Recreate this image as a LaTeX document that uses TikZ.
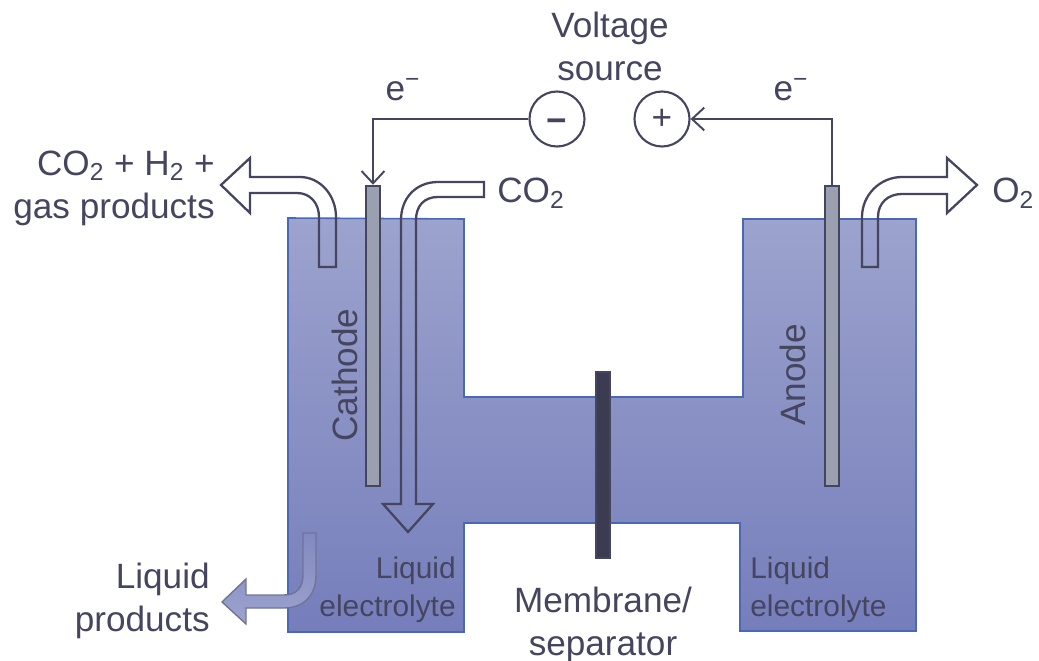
\documentclass[tikz,border=0pt]{standalone}
\usepackage{fontspec}
\setmainfont{Liberation Sans}
\usetikzlibrary{arrows.meta}
\definecolor{ink}{HTML}{45455F}
\definecolor{celltop}{HTML}{9CA3CD}
\definecolor{cellbot}{HTML}{757EBB}
\definecolor{celledge}{HTML}{4A68B8}
\definecolor{rodgrey}{HTML}{9AA0B0}
\newcommand{\elec}{e\textsuperscript{−}}
\tikzset{
    bigtext/.style = {text=ink,inner sep=0pt,font=\fontsize{20}{24.5}\selectfont},
    smalltext/.style = {text=ink,inner sep=0pt,font=\fontsize{17}{21.5}\selectfont},
    electrode/.style = {rectangle,draw=ink,fill=rodgrey,line width=1.4pt,inner sep=0pt,minimum width=8pt,minimum height=170.7pt},
    membrane/.style = {rectangle,draw=ink,fill=ink!85!black,line width=1.2pt,inner sep=0pt,minimum width=8pt,minimum height=105.8pt},
    terminal/.style = {circle,draw=ink,line width=1.2pt,inner sep=0pt,minimum size=31.3pt,text=ink,font=\fontsize{20}{20}\selectfont},
    wire/.style = {draw=ink,line width=1.1pt},
    pipe/.style = {draw=ink,line width=1.3pt,line join=miter},
    barb/.style = {-{Straight Barb[length=7pt,width=13pt]}}}
\begin{document}
\begin{tikzpicture}[x=0.569pt,y=-0.569pt]
        \useasboundingbox (0,0) rectangle (1039,661);
        \draw[celledge,line width=0.9pt,top color=celltop,bottom color=cellbot]
            (288,218) -- (464,219) -- (464,397) -- (743,397) -- (743,219) -- (916,219)
            -- (916,631) -- (740,631) -- (740,523) -- (464,523) -- (464,632) -- (288,632) -- cycle;
        \draw[pipe] (336,267) -- (336,217) .. controls (336,195) and (320,177) .. (300,177)
            -- (250,177) -- (250,158) -- (221,185) -- (250,213) -- (250,193) -- (297,193)
            .. controls (310,193) and (319,203) .. (319,217) -- (319,267) -- cycle;
        \draw[pipe] (484,182) -- (438,182) .. controls (416,182) and (401,198) .. (401,220)
            -- (401,504) -- (383,504) -- (408,532) -- (433,504) -- (416,504) -- (416,220)
            .. controls (416,206) and (424,197) .. (438,197) -- (484,197) -- cycle;
        \draw[pipe] (862,267) -- (862,217) .. controls (862,195) and (880,177) .. (902,177)
            -- (947,177) -- (947,158) -- (977,185) -- (947,213) -- (947,194) -- (902,194)
            .. controls (888,194) and (878,203) .. (878,217) -- (878,267) -- cycle;
        \draw[draw=ink!50!celltop,line width=0.8pt,top color=cellbot!70!celltop,bottom color=celltop]
            (303,533) -- (316,533) -- (316,575) .. controls (316,595) and (304,608) .. (284,608)
            -- (246,608) -- (246,624) -- (222,602) -- (246,579) -- (246,595) -- (284,595)
            .. controls (296,595) and (303,588) .. (303,575) -- cycle;
        \node[electrode] (cathode) at (373,336) {};
        \node[electrode] (anode) at (832,336) {};
        \node[membrane] (separator) at (603,465) {};
        \node[terminal] (neg) at (557,119) {\raisebox{-7.5pt}[0pt][0pt]{\bfseries −}};
        \node[terminal] (pos) at (662,119) {+};
        \draw[wire,barb] (neg.west) -| (cathode.north);
        \draw[wire,barb] (anode.north) |- (pos.east);
        \node[bigtext,align=center] (voltage) at (610,46) {Voltage\\source};
        \node[bigtext] (eleft) at (403,90) {\elec};
        \node[bigtext] (eright) at (791,90) {\elec};
        \node[bigtext,align=right,anchor=east] (gasout) at (215,188) {CO\textsubscript{2} + H\textsubscript{2} +\\gas products};
        \node[bigtext,anchor=west] (co2in) at (497,193) {CO\textsubscript{2}};
        \node[bigtext,anchor=west] (o2out) at (992,193) {O\textsubscript{2}};
        \node[bigtext,rotate=90] (cathodetext) at (345,375) {Cathode};
        \node[bigtext,rotate=90] (anodetext) at (793,375) {Anode};
        \node[bigtext,align=right,anchor=east] (liquidout) at (210,601) {Liquid\\products};
        \node[smalltext,align=right,anchor=east] (leftliquid) at (456,590) {Liquid\\electrolyte};
        \node[smalltext,align=left,anchor=west] (rightliquid) at (750,590) {Liquid\\electrolyte};
        \node[bigtext,align=center] (membranetext) at (603,625) {Membrane/\\separator};
\end{tikzpicture}
\end{document}
